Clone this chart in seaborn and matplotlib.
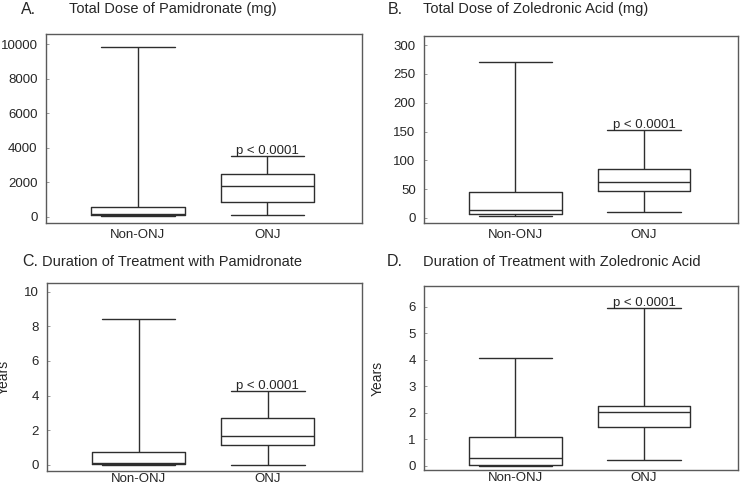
import matplotlib
matplotlib.use("Agg")
import matplotlib.pyplot as plt
import seaborn as sns
import pandas as pd

groups = ["Non-ONJ", "ONJ"]

# five-number summaries: min, q1, median, q3, max
pam_dose_non = [10, 80, 180, 560, 9800]
pam_dose_onj = [100, 870, 1780, 2490, 3530]
zol_dose_non = [3, 6, 13, 45, 270]
zol_dose_onj = [10, 46, 63, 85, 153]
pam_years_non = [0.0, 0.05, 0.12, 0.75, 8.45]
pam_years_onj = [0.02, 1.17, 1.67, 2.70, 4.27]
zol_years_non = [0.0, 0.02, 0.30, 1.10, 4.08]
zol_years_onj = [0.20, 1.48, 2.03, 2.27, 5.95]

titles = ["Total Dose of Pamidronate (mg)", "Total Dose of Zoledronic Acid (mg)",
          "Duration of Treatment with Pamidronate", "Duration of Treatment with Zoledronic Acid"]
letters = ["A.", "B.", "C.", "D."]
yticks = [[0, 2000, 4000, 6000, 8000, 10000], [0, 50, 100, 150, 200, 250, 300],
          [0, 2, 4, 6, 8, 10], [0, 1, 2, 3, 4, 5, 6]]
ylims = [(-370, 10580), (-9, 316), (-0.35, 10.5), (-0.16, 6.78)]
ylabels = [None, None, "Years", "Years"]

sns.set_style("white")
plt.rcParams["font.family"] = ["Liberation Sans", "DejaVu Sans"]

W, H = 740, 487
fig = plt.figure(figsize=(W / 100, H / 100), dpi=100)

# axes boxes in pixels: left, top, right, bottom
boxes = [(46, 34, 362, 223), (424, 36, 738, 223), (47, 283, 362, 471), (424, 286, 738, 470)]
letter_pos = [(21, 9), (388, 9), (22, 262), (387, 262)]
title_pos = [(69, 9), (423, 9), (42, 262), (423, 262)]
label_x = [None, None, -0.115, -0.125]
xpad = [4, 4, 1.5, 1.5]

data = [(pam_dose_non, pam_dose_onj), (zol_dose_non, zol_dose_onj),
        (pam_years_non, pam_years_onj), (zol_years_non, zol_years_onj)]

line_col = "#2e2e2e"
for i, (non, onj) in enumerate(data):
    l, t, r, b = boxes[i]
    ax = fig.add_axes([l / W, 1 - b / H, (r - l) / W, (b - t) / H])
    df = pd.DataFrame({"group": [groups[0]] * len(non) + [groups[1]] * len(onj),
                       "value": non + onj})
    sns.boxplot(data=df, x="group", y="value", order=groups, ax=ax, whis=(0, 100),
                width=0.72, fill=False, color=line_col, linewidth=1,
                showfliers=False, capwidths=0.57)
    ax.set_xlim(-0.71, 1.73)
    ax.set_ylim(*ylims[i])
    ax.set_yticks(yticks[i])
    ax.set_xlabel("")
    if ylabels[i]:
        ax.set_ylabel(ylabels[i], fontsize=10)
        ax.yaxis.set_label_coords(label_x[i], 0.5)
    else:
        ax.set_ylabel("")
    ax.tick_params(axis="y", direction="in", length=2, width=0.6, color="#888888",
                   labelsize=9.5, pad=6, left=True)
    ax.tick_params(axis="x", length=0, labelsize=9.5, pad=xpad[i])
    for s in ax.spines.values():
        s.set_color("#5a5a5a")
        s.set_linewidth(1)
    ax.annotate("p < 0.0001", (1, max(onj)), xytext=(0, 1.5), textcoords="offset points",
                ha="center", va="baseline", fontsize=9.5)
    fig.text(letter_pos[i][0] / W, 1 - letter_pos[i][1] / H, letters[i],
             fontsize=11.5, va="center", ha="left")
    fig.text(title_pos[i][0] / W, 1 - title_pos[i][1] / H, titles[i],
             fontsize=10.5, va="center", ha="left")

fig.savefig("out.png", dpi=100)
